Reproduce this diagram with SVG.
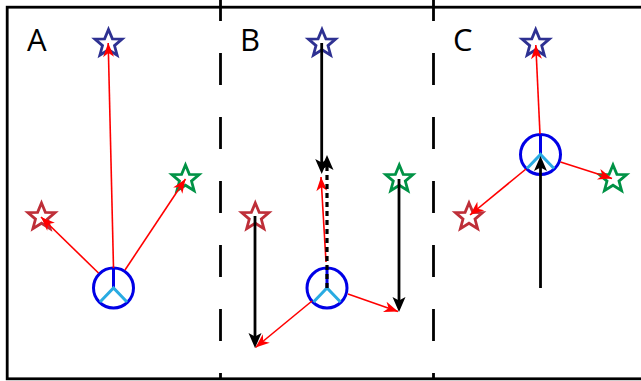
<svg xmlns="http://www.w3.org/2000/svg" width="641" height="381" viewBox="0 0 641 381">
<style>
text{font-family:"Open Sans","Liberation Sans",sans-serif;font-size:31px;fill:#000}
.frame{fill:none;stroke:#000;stroke-width:2.8}
.div{fill:none;stroke:#000;stroke-width:2.8;stroke-dasharray:32 32}
.star{fill:none;stroke-width:2.8;stroke-linejoin:miter}
.sb{stroke:#2e3192}.sr{stroke:#be2e38}.sg{stroke:#009245}
.ring{fill:#fff;stroke:#0000e6;stroke-width:3}
.up{fill:none;stroke:#0000e6;stroke-width:3}
.leg{fill:none;stroke:#29abe2;stroke-width:3}
.r{fill:none;stroke:#f00;stroke-width:1.6;marker-end:url(#hr)}
.k{fill:none;stroke:#000;stroke-width:2.8;marker-end:url(#hk)}
.kd{fill:none;stroke:#000;stroke-width:3.2;stroke-dasharray:5 4;marker-end:url(#hk)}
</style>
<defs>
<marker id="hr" markerUnits="userSpaceOnUse" markerWidth="18" markerHeight="16" viewBox="-16 -8 18 16" refX="0" refY="0" orient="auto"><path d="M0,0L-14,-5.5L-10,0L-14,5.5Z" fill="#f00"/></marker>
<marker id="hk" markerUnits="userSpaceOnUse" markerWidth="22" markerHeight="18" viewBox="-10 -9 22 18" refX="0" refY="0" orient="auto"><path d="M9,0L-6,-6.5L-2.5,0L-6,6.5Z" fill="#000"/></marker>
<polygon id="st" points="0,-14 3.9,-4.6 13.6,-4.4 6,2.1 8.6,11.6 0,6.2 -8.6,11.6 -6,2.1 -13.6,-4.4 -3.9,-4.6"/>
<g id="pc"><circle class="ring" r="20"/><path class="up" d="M0,0V-20"/><path class="leg" d="M-13.5,14L0,0L13.5,14"/></g>
</defs>
<rect class="frame" x="7.2" y="7.2" width="640" height="371.6"/>
<g id="dividers">
<path class="div" d="M220.5,-11V379"/>
<path class="div" d="M433.5,-11V379"/>
</g>
<g id="label-a"><text x="27" y="51">A</text></g>
<g id="label-b"><text x="240" y="51">B</text></g>
<g id="label-c"><text x="453" y="51">C</text></g>
<g id="star-a-blue"><use href="#st" class="star sb" x="108.5" y="43.5"/></g>
<g id="star-a-red"><use href="#st" class="star sr" x="41.5" y="217"/></g>
<g id="star-a-green"><use href="#st" class="star sg" x="185.5" y="179"/></g>
<g id="star-b-blue"><use href="#st" class="star sb" x="322" y="43.5"/></g>
<g id="star-b-red"><use href="#st" class="star sr" x="255.3" y="217"/></g>
<g id="star-b-green"><use href="#st" class="star sg" x="399.3" y="179"/></g>
<g id="star-c-blue"><use href="#st" class="star sb" x="535.7" y="43.5"/></g>
<g id="star-c-red"><use href="#st" class="star sr" x="469" y="217"/></g>
<g id="star-c-green"><use href="#st" class="star sg" x="613" y="179"/></g>
<g id="probe-a"><use href="#pc" x="113.5" y="288"/></g>
<g id="probe-b"><use href="#pc" x="327" y="288"/></g>
<g id="probe-c"><use href="#pc" x="540.5" y="154.5"/></g>
<g id="connectors">
<path class="r" d="M113.5,268L108.2,43"/>
<path class="r" d="M98.5,273L41,217"/>
<path class="r" d="M125,270L185.5,179"/>
<path class="r" d="M326,262L321,177"/>
<path class="r" d="M312,301L255.5,347.5"/>
<path class="r" d="M348,294L398,311.5"/>
<path class="r" d="M540,134L535.8,45"/>
<path class="r" d="M526,169L470,215"/>
<path class="r" d="M560.5,162L612,178.5"/>
<path class="k" d="M321.7,43V165"/>
<path class="k" d="M255,216V339"/>
<path class="k" d="M399,179V303"/>
<path class="kd" d="M327,288V164"/>
<path class="k" d="M540.5,288V165"/>
</g>
</svg>
